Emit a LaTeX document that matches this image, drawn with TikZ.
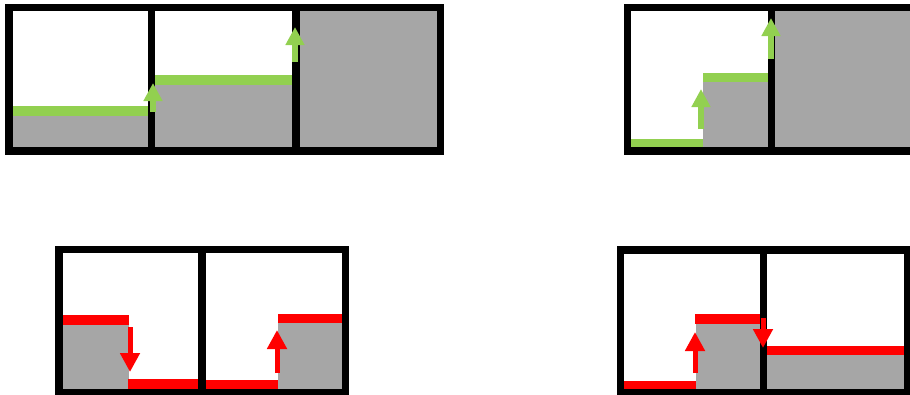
\documentclass[tikz,border=0pt]{standalone}
\usetikzlibrary{arrows.meta}
\definecolor{levelgreen}{HTML}{92D050}
\definecolor{levelred}{HTML}{FF0000}
\definecolor{levelgray}{HTML}{A6A6A6}

\begin{document}
\begin{tikzpicture}[x=1pt, y=-1pt,
    box/.style={draw=black, line width=7.5pt},
    wall/.style={black, line width=7.5pt},
    solid/.style={fill=levelgray},
    gbar/.style={fill=levelgreen},
    rbar/.style={fill=levelred},
    garrow/.style={-{Triangle[width=18pt, length=18pt]}, line width=5.5pt, levelgreen},
    rarrow/.style={-{Triangle[width=19pt, length=19pt]}, line width=5pt, levelred}]
  \useasboundingbox (0,0) rectangle (910,394);
  \clip (0,0) rectangle (910,394);

  % oben links: drei Zellen
  \fill[solid] (9,116) rectangle (151.5,151);
  \fill[gbar] (9,106) rectangle (151.5,116);
  \fill[solid] (151.5,85) rectangle (296,151);
  \fill[gbar] (151.5,75) rectangle (296,85);
  \fill[solid] (296,7.5) rectangle (440.5,151);
  \draw[box] (9,7.5) rectangle (440.5,151);
  \draw[wall] (151.5,7.5) -- (151.5,151);
  \draw[wall] (296,7.5) -- (296,151);
  \coordinate (tl1s) at (153,112);
  \coordinate (tl1e) at (153,83);
  \coordinate (tl2s) at (295,62);
  \coordinate (tl2e) at (295,27);
  \draw[garrow] (tl1s) -- (tl1e);
  \draw[garrow] (tl2s) -- (tl2e);

  % oben rechts: Stufe
  \fill[gbar] (627.5,139) rectangle (703,148);
  \fill[solid] (703,82) rectangle (771.5,151);
  \fill[gbar] (703,73) rectangle (771.5,82);
  \fill[solid] (771.5,7.5) rectangle (930,151);
  \draw[box] (627.5,7.5) rectangle (930,151);
  \draw[wall] (771.5,7.5) -- (771.5,151);
  \coordinate (tr1s) at (701,129);
  \coordinate (tr1e) at (701,89);
  \coordinate (tr2s) at (771,59);
  \coordinate (tr2e) at (771,18);
  \draw[garrow] (tr1s) -- (tr1e);
  \draw[garrow] (tr2s) -- (tr2e);

  % unten links: Mulde
  \fill[solid] (59,325) rectangle (129,393);
  \fill[rbar] (59,315) rectangle (129,325);
  \fill[rbar] (128,379) rectangle (202,389);
  \fill[rbar] (202,380) rectangle (278,390);
  \fill[solid] (278,323) rectangle (345.5,393);
  \fill[rbar] (278,314) rectangle (345.5,323);
  \draw[box] (59,249.5) rectangle (345.5,393);
  \draw[wall] (202,249.5) -- (202,393);
  \coordinate (bl1s) at (130,327);
  \coordinate (bl1e) at (130,372);
  \coordinate (bl2s) at (277,373);
  \coordinate (bl2e) at (277,330);
  \draw[rarrow] (bl1s) -- (bl1e);
  \draw[rarrow] (bl2s) -- (bl2e);

  % unten rechts: Huegel
  \fill[rbar] (620.5,381) rectangle (696,390);
  \fill[solid] (696,324) rectangle (763.5,393);
  \fill[rbar] (695,314) rectangle (763.5,324);
  \fill[solid] (763.5,355) rectangle (908,393);
  \fill[rbar] (763.5,346) rectangle (908,355);
  \draw[box] (620.5,250) rectangle (908,393);
  \draw[wall] (763.5,250) -- (763.5,393);
  \coordinate (br1s) at (695,373);
  \coordinate (br1e) at (695,332);
  \coordinate (br2s) at (763,318);
  \coordinate (br2e) at (763,348);
  \draw[rarrow] (br1s) -- (br1e);
  \draw[rarrow] (br2s) -- (br2e);
\end{tikzpicture}
\end{document}
